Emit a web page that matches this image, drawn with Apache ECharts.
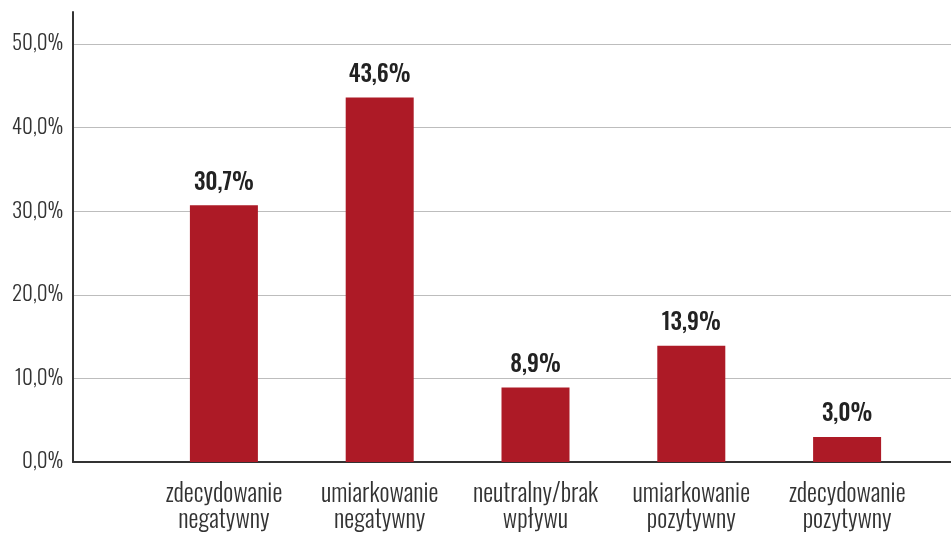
<!DOCTYPE html>
<html><head><meta charset="utf-8">
<script src="https://cdn.jsdelivr.net/npm/echarts@6/dist/echarts.min.js"></script>
<style>html,body{margin:0;padding:0;background:#fff}#c{width:951px;height:536px}</style>
</head><body><div id="c"></div>
<script>
const categories = ['zdecydowanie\nnegatywny', 'umiarkowanie\nnegatywny', 'neutralny/brak\nwpływu', 'umiarkowanie\npozytywny', 'zdecydowanie\npozytywny'];
const values = [30.7, 43.6, 8.9, 13.9, 3.0];
const yTicks = [0, 10, 20, 30, 40, 50];

const FONT = "Oswald, 'Roboto Condensed', sans-serif";
const fmt = v => v.toFixed(1).replace('.', ',') + '%';
const chart = echarts.init(document.getElementById('c'), null, {renderer: 'canvas'});
chart.setOption({
  animation: false,
  backgroundColor: '#fff',
  grid: [
    {left: 73, right: 0, top: 44, bottom: 74, outerBoundsMode: 'none', containLabel: false},
    {left: 146, right: 26, top: 44, bottom: 74, outerBoundsMode: 'none', containLabel: false},
    {left: 73, right: 0, top: 12, bottom: 74, outerBoundsMode: 'none', containLabel: false}
  ],
  xAxis: [
    {gridIndex: 0, type: 'value', min: 0, max: 1, axisLine: {show: true, onZero: false, lineStyle: {color: '#333', width: 2}}, axisTick: {show: false}, axisLabel: {show: false}, splitLine: {show: false}},
    {gridIndex: 1, type: 'category', data: categories, axisLine: {show: false}, axisTick: {show: false},
     axisLabel: {interval: 0, margin: 19, fontFamily: FONT, fontWeight: 300, fontSize: 25, color: '#333', lineHeight: 26}},
    {gridIndex: 2, type: 'value', show: false}
  ],
  yAxis: [
    {gridIndex: 0, type: 'value', min: yTicks[0], max: yTicks[yTicks.length - 1], interval: 10,
     axisLine: {show: false}, axisTick: {show: false},
     axisLabel: {formatter: fmt, fontFamily: FONT, fontWeight: 300, fontSize: 21, color: '#333', margin: 10},
     splitLine: {show: true, lineStyle: {color: '#bdbdbd', width: 1}}},
    {gridIndex: 1, type: 'value', min: yTicks[0], max: yTicks[yTicks.length - 1], show: false},
    {gridIndex: 2, type: 'value', axisLine: {show: true, lineStyle: {color: '#333', width: 2}}, axisTick: {show: false}, axisLabel: {show: false}, splitLine: {show: false}}
  ],
  series: [{
    type: 'bar', xAxisIndex: 1, yAxisIndex: 1, data: values, barWidth: 68,
    itemStyle: {color: '#AD1A26'},
    label: {show: true, position: 'top', distance: 11, formatter: p => fmt(p.value),
      fontFamily: FONT, fontSize: 23, fontWeight: 500, color: '#222'}
  }]
});
</script></body></html>
